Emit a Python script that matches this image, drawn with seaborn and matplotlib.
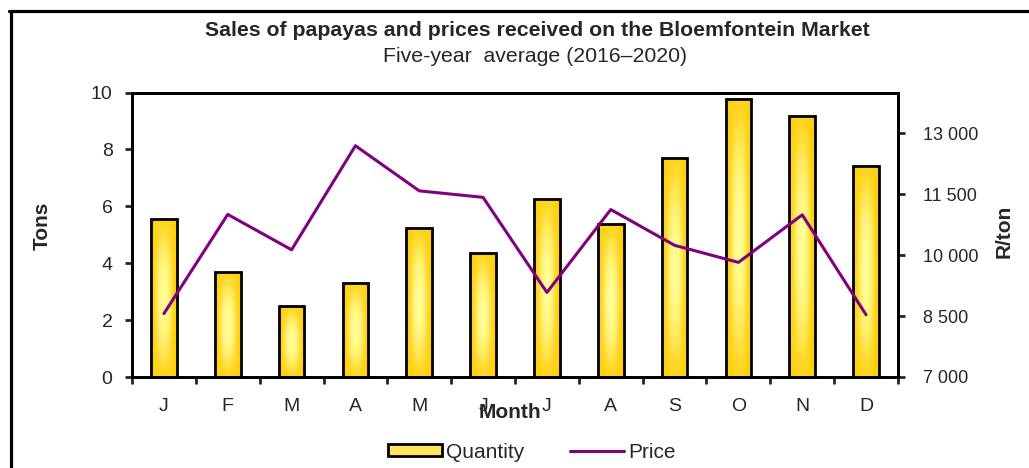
import numpy as np
import pandas as pd
import matplotlib
matplotlib.use("Agg")
import matplotlib.pyplot as plt
import seaborn as sns
from matplotlib.colors import LinearSegmentedColormap
from matplotlib.patches import Patch
from matplotlib.lines import Line2D

# data
months = ["Jan", "Feb", "Mar", "Apr", "May", "Jun", "Jul", "Aug", "Sep", "Oct", "Nov", "Dec"]
month_labels = ["J", "F", "M", "A", "M", "J", "J", "A", "S", "O", "N", "D"]
quantity = [5.54, 3.69, 2.49, 3.29, 5.25, 4.36, 6.26, 5.39, 7.69, 9.78, 9.18, 7.43]  # tons
price = [8560, 11000, 10130, 12690, 11580, 11420, 9080, 11120, 10240, 9820, 10990, 8530]  # R/ton

df = pd.DataFrame({"Month": months, "Quantity": quantity, "Price": price})

sns.set_style("white")
plt.rcParams["font.family"] = ["Liberation Sans", "DejaVu Sans"]

fig = plt.figure(figsize=(10.29, 4.68), dpi=100)
ax = fig.add_axes([132 / 1029, 1 - 377 / 468, (898 - 132) / 1029, (377 - 92.5) / 468])

sns.barplot(data=df, x="Month", y="Quantity", order=months, color="#FFCC00",
            width=0.4, edgecolor="black", linewidth=2, ax=ax, zorder=2)

# gradient fill (gold edges, pale yellow centre)
cmap = LinearSegmentedColormap.from_list("gold", ["#FFFF99", "#FFD726", "#FFCC00"])
u = np.linspace(-1, 1, 60)
v = np.linspace(-1, 1, 200)
U, V = np.meshgrid(u, v)
grad = 1 - (1 - U ** 2) * (1 - 0.6 * V ** 2)
for p in ax.patches:
    x0, y0 = p.get_x(), p.get_y()
    w, h = p.get_width(), p.get_height()
    ax.imshow(grad, cmap=cmap, extent=[x0, x0 + w, y0, y0 + h], aspect="auto",
              origin="lower", interpolation="bicubic", zorder=2.1)
    p.set_facecolor("none")
    p.set_zorder(2.2)

ax.set_xlim(-0.5, 11.5)
ax.set_ylim(0, 10)
ax.set_yticks(np.arange(0, 11, 2))
ax.set_xticks(np.arange(-0.5, 12, 1))
ax.set_xticklabels([])
ax.set_xticks(np.arange(12), minor=True)
ax.set_xticklabels(month_labels, minor=True)
ax.tick_params(axis="x", which="major", direction="out", length=5, width=2, bottom=True)
ax.tick_params(axis="x", which="minor", length=0, pad=15, labelsize=14)
ax.tick_params(axis="y", direction="out", length=5, width=2, left=True, labelsize=14, pad=9)
ax.set_xlabel("")
ax.set_ylabel("")
for s in ax.spines.values():
    s.set_color("black")
    s.set_linewidth(2)

ax2 = ax.twinx()
sns.lineplot(data=df, x="Month", y="Price", color="#800080", linewidth=2.2, ax=ax2, sort=False)
ax2.set_ylim(7000, 14000)
ax2.set_yticks(np.arange(7000, 13001, 1500))
ax2.set_yticklabels([f"{t:,}".replace(",", " ") for t in range(7000, 13001, 1500)])
ax2.tick_params(axis="y", direction="out", length=5, width=2, right=True, labelsize=13, pad=13)
ax2.set_ylabel("")
ax2.set_xlim(-0.5, 11.5)
for s in ax2.spines.values():
    s.set_color("black")
    s.set_linewidth(2)

fig.text(42 / 1029, 1 - 226 / 468, "Tons", rotation=90, ha="center", va="center",
         fontsize=15, fontweight="bold")
fig.text(1004 / 1029, 1 - 231 / 468, "R/ton", rotation=90, ha="center", va="center",
         fontsize=15, fontweight="bold")
fig.text(510 / 1029, 1 - 413 / 468, "Month", ha="center", va="center",
         fontsize=15, fontweight="bold")

fig.text(537 / 1029, 1 - 31 / 468, "Sales of papayas and prices received on the Bloemfontein Market",
         ha="center", va="center", fontsize=15.3, fontweight="bold")
fig.text(535 / 1029, 1 - 56 / 468, "Five-year  average (2016\u20132020)",
         ha="center", va="center", fontsize=15.3)

handles = [Patch(facecolor="#FFE45C", edgecolor="black", linewidth=2),
           Line2D([0], [0], color="#800080", linewidth=2.2)]
fig.legend(handles, ["Quantity", "Price"], loc="center", bbox_to_anchor=(532 / 1029, 1 - 452 / 468),
           ncol=2, frameon=False, fontsize=15, handlelength=2.6, handleheight=0.5,
           handletextpad=0.2, columnspacing=2.2)

# outer frame (top and left edges only are inside the picture)
fig.add_artist(Line2D([10.5 / 1029, 10.5 / 1029], [0, 1 - 10.5 / 468], color="black", linewidth=2.3,
                      transform=fig.transFigure))
fig.add_artist(Line2D([9 / 1029, 1], [1 - 10.5 / 468, 1 - 10.5 / 468], color="black", linewidth=2.3,
                      transform=fig.transFigure))

fig.savefig("out.png", dpi=100, facecolor="white")
